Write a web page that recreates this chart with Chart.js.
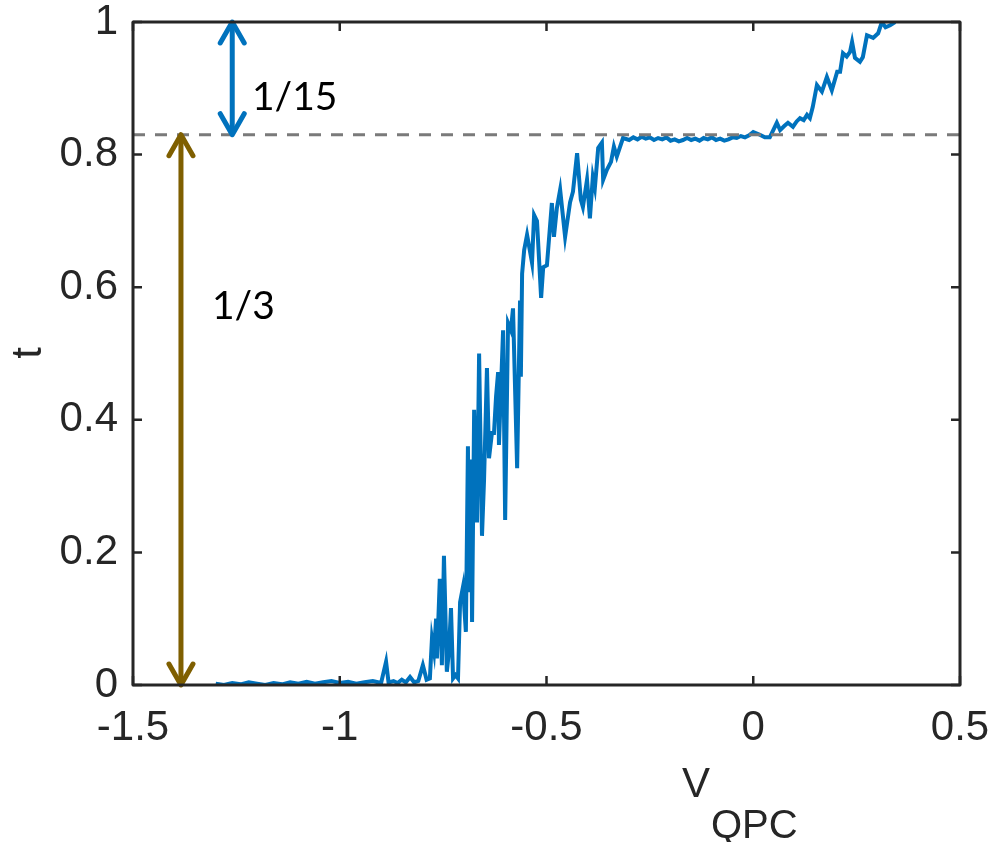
<!DOCTYPE html>
<html>
<head>
<meta charset="utf-8">
<script src="https://cdn.jsdelivr.net/npm/chart.js@4"></script>
<style>
  html, body { margin: 0; padding: 0; background: #fff; }
  #wrap { width: 993px; height: 842px; }
</style>
</head>
<body>
<div id="wrap"><canvas id="qpc-chart" width="993" height="842"></canvas></div>
<script>
const vQpc = [
  -1.30, -1.28, -1.26, -1.24, -1.22, -1.20, -1.18, -1.16, -1.14, -1.12,
  -1.10, -1.08, -1.06, -1.04, -1.02, -1.00, -0.98, -0.96, -0.94, -0.92,
  -0.90, -0.888, -0.882, -0.87, -0.86, -0.85, -0.84, -0.83, -0.82, -0.81,
  -0.799, -0.79, -0.782, -0.777, -0.772, -0.767, -0.765, -0.758, -0.753, -0.748,
  -0.741, -0.736, -0.731, -0.726, -0.72, -0.714, -0.709, -0.702, -0.695, -0.690,
  -0.687, -0.683, -0.680, -0.675, -0.668, -0.663, -0.656, -0.651, -0.644, -0.639,
  -0.632, -0.627, -0.622, -0.617, -0.615, -0.605, -0.600, -0.593, -0.586, -0.581,
  -0.571, -0.564, -0.562, -0.559, -0.554, -0.547, -0.535, -0.530, -0.523, -0.513,
  -0.508, -0.499, -0.487, -0.482, -0.475, -0.467, -0.455, -0.443, -0.436, -0.426,
  -0.417, -0.412, -0.402, -0.395, -0.388, -0.383, -0.375, -0.366, -0.363, -0.354,
  -0.344, -0.337, -0.330, -0.315, -0.30, -0.29, -0.28, -0.27, -0.26, -0.25,
  -0.24, -0.23, -0.22, -0.21, -0.20, -0.19, -0.18, -0.17, -0.16, -0.15,
  -0.14, -0.13, -0.12, -0.11, -0.10, -0.09, -0.08, -0.07, -0.06, -0.05,
  -0.04, -0.03, -0.02, -0.01, 0.00, 0.016, 0.028, 0.040, 0.057, 0.065,
  0.075, 0.084, 0.096, 0.105, 0.113, 0.122, 0.130, 0.137, 0.144, 0.154,
  0.166, 0.178, 0.190, 0.203, 0.210, 0.217, 0.226, 0.234, 0.239, 0.246,
  0.258, 0.265, 0.275, 0.290, 0.302, 0.311, 0.320, 0.331, 0.343
];
const tValues = [
  0.002, 0.000, 0.003, 0.001, 0.004, 0.002, 0.000, 0.003, 0.001, 0.004,
  0.002, 0.005, 0.002, 0.004, 0.006, 0.003, 0.005, 0.002, 0.004, 0.006,
  0.003, 0.035, 0.004, 0.006, 0.003, 0.008, 0.004, 0.012, 0.004, 0.006,
  0.030, 0.008, 0.010, 0.070, 0.050, 0.100, 0.040, 0.160, 0.030, 0.195,
  0.020, 0.050, 0.116, 0.010, 0.015, 0.010, 0.125, 0.148, 0.080, 0.360,
  0.140, 0.340, 0.095, 0.415, 0.245, 0.500, 0.225, 0.310, 0.478, 0.342,
  0.380, 0.380, 0.435, 0.472, 0.362, 0.535, 0.249, 0.546, 0.535, 0.568,
  0.327, 0.580, 0.465, 0.620, 0.656, 0.679, 0.637, 0.709, 0.700, 0.584,
  0.630, 0.633, 0.727, 0.676, 0.719, 0.747, 0.676, 0.728, 0.744, 0.802,
  0.732, 0.721, 0.762, 0.704, 0.766, 0.750, 0.810, 0.818, 0.762, 0.777,
  0.789, 0.812, 0.797, 0.825, 0.822, 0.826, 0.823, 0.827, 0.824, 0.826,
  0.822, 0.825, 0.823, 0.826, 0.821, 0.823, 0.820, 0.822, 0.825, 0.822,
  0.824, 0.821, 0.825, 0.823, 0.826, 0.822, 0.824, 0.821, 0.823, 0.826,
  0.825, 0.828, 0.826, 0.829, 0.834, 0.830, 0.826, 0.826, 0.848, 0.837,
  0.843, 0.848, 0.842, 0.850, 0.855, 0.852, 0.860, 0.855, 0.872, 0.905,
  0.895, 0.917, 0.897, 0.925, 0.925, 0.953, 0.948, 0.955, 0.970, 0.946,
  0.940, 0.947, 0.980, 0.976, 0.983, 1.000, 0.992, 0.995, 1.000
];

// reference level and the two arrows
const plateauLevel = 0.83;
const plateauX = [-1.5, 0.5];
const upperArrowX = -1.26;    // 1/15
const upperArrowT = [0.83, 1.0];
const lowerArrowX = -1.384;   // 1/3
const lowerArrowT = [0.0, 0.83];
const upperLabel = '1/15';
const lowerLabel = '1/3';

// tick labels
const xTickValues = [-1.5, -1, -0.5, 0, 0.5];
const xTickLabels = ['-1.5', '-1', '-0.5', '0', '0.5'];
const yTickValues = [0, 0.2, 0.4, 0.6, 0.8, 1];
const yTickLabels = ['0', '0.2', '0.4', '0.6', '0.8', '1'];

const BLUE = '#0072BD';
const BROWN = '#7F5F00';
const AXIS = '#262626';
const TICK_FONT = '"Liberation Sans", Arial, sans-serif';

const traceData = vQpc.map((v, i) => ({ x: v, y: tValues[i] }));

// box, inward ticks, arrow heads, annotations, axis titles
const decorPlugin = {
    id: 'decor',
    afterDatasetsDraw(chart) {
        const { ctx, chartArea: a, scales: { x, y } } = chart;
        ctx.save();

        // arrow heads (open chevrons)
        const head = (px, py, dir, color) => {
            ctx.strokeStyle = color;
            ctx.lineWidth = 5;
            ctx.lineCap = 'round';
            ctx.lineJoin = 'round';
            ctx.beginPath();
            ctx.moveTo(px - 12, py + dir * 21);
            ctx.lineTo(px, py);
            ctx.lineTo(px + 12, py + dir * 21);
            ctx.stroke();
        };
        const ux = x.getPixelForValue(upperArrowX);
        head(ux, y.getPixelForValue(upperArrowT[1]), 1, BLUE);
        head(ux, y.getPixelForValue(upperArrowT[0]), -1, BLUE);
        const lx = x.getPixelForValue(lowerArrowX);
        head(lx, y.getPixelForValue(lowerArrowT[1]), 1, BROWN);
        head(lx, y.getPixelForValue(lowerArrowT[0]), -1, BROWN);

        // axes box
        ctx.strokeStyle = AXIS;
        ctx.lineWidth = 3;
        ctx.lineCap = 'butt';
        ctx.strokeRect(a.left, a.top, a.right - a.left, a.bottom - a.top);

        // inward ticks
        ctx.lineWidth = 2.5;
        ctx.beginPath();
        const tl = 9;
        yTickValues.forEach(v => {
            const py = y.getPixelForValue(v);
            ctx.moveTo(a.left, py); ctx.lineTo(a.left + tl, py);
            ctx.moveTo(a.right, py); ctx.lineTo(a.right - tl, py);
        });
        xTickValues.forEach(v => {
            const px = x.getPixelForValue(v);
            ctx.moveTo(px, a.bottom); ctx.lineTo(px, a.bottom - tl);
            ctx.moveTo(px, a.top); ctx.lineTo(px, a.top + tl);
        });
        ctx.stroke();

        // arrow annotations
        ctx.fillStyle = '#000';
        ctx.font = '39px Lato, "Open Sans", sans-serif';
        ctx.textAlign = 'left';
        ctx.textBaseline = 'middle';
        ctx.fillText(upperLabel, 252, 97);
        ctx.fillText(lowerLabel, 212, 306);

        // axis titles
        ctx.fillStyle = AXIS;
        ctx.font = '42px ' + TICK_FONT;
        ctx.textAlign = 'center';
        ctx.textBaseline = 'alphabetic';
        ctx.save();
        ctx.translate(41, 353);
        ctx.rotate(-Math.PI / 2);
        ctx.fillText('t', 0, 0);
        ctx.restore();
        ctx.textAlign = 'left';
        ctx.fillText('V', 682, 797);
        ctx.font = '40px ' + TICK_FONT;
        ctx.fillText('QPC', 711, 838);

        ctx.restore();
    }
};

const ctx = document.getElementById('qpc-chart').getContext('2d');
new Chart(ctx, {
    type: 'scatter',
    data: {
        datasets: [
            {
                label: 'plateau',
                data: plateauX.map(v => ({ x: v, y: plateauLevel })),
                showLine: true,
                borderColor: '#7A7A7A',
                borderWidth: 3,
                borderDash: [12, 10],
                pointRadius: 0
            },
            {
                label: 't',
                data: traceData,
                showLine: true,
                borderColor: BLUE,
                borderWidth: 4,
                pointRadius: 0,
                tension: 0
            },
            {
                label: '1/15',
                data: upperArrowT.map(v => ({ x: upperArrowX, y: v })),
                showLine: true,
                borderColor: BLUE,
                borderWidth: 5,
                pointRadius: 0
            },
            {
                label: '1/3',
                data: lowerArrowT.map(v => ({ x: lowerArrowX, y: v })),
                showLine: true,
                borderColor: BROWN,
                borderWidth: 5,
                pointRadius: 0
            }
        ]
    },
    options: {
        responsive: false,
        animation: false,
        layout: { autoPadding: false, padding: { left: 0, right: 33, top: 22, bottom: 0 } },
        plugins: {
            legend: { display: false },
            tooltip: { enabled: false }
        },
        scales: {
            x: {
                type: 'linear',
                min: -1.5,
                max: 0.5,
                grid: { display: false, drawTicks: false },
                border: { display: false },
                afterFit: (s) => {
                    s.height = 157;
                    s.paddingLeft = 0; s.paddingRight = 0;
                    s.paddingTop = 0; s.paddingBottom = 0;
                },
                afterBuildTicks: (s) => { s.ticks = xTickValues.map(v => ({ value: v })); },
                ticks: {
                    padding: 18,
                    color: AXIS,
                    maxRotation: 0,
                    font: { family: TICK_FONT, size: 42 },
                    callback: (value, i) => xTickLabels[i]
                }
            },
            y: {
                type: 'linear',
                min: 0,
                max: 1,
                grid: { display: false, drawTicks: false },
                border: { display: false },
                afterFit: (s) => {
                    s.width = 133;
                    s.paddingLeft = 0; s.paddingRight = 0;
                    s.paddingTop = 0; s.paddingBottom = 0;
                },
                afterBuildTicks: (s) => { s.ticks = yTickValues.map(v => ({ value: v })); },
                ticks: {
                    padding: 15,
                    color: AXIS,
                    font: { family: TICK_FONT, size: 42 },
                    callback: (value, i) => yTickLabels[i]
                }
            }
        }
    },
    plugins: [decorPlugin]
});
</script>
</body>
</html>
